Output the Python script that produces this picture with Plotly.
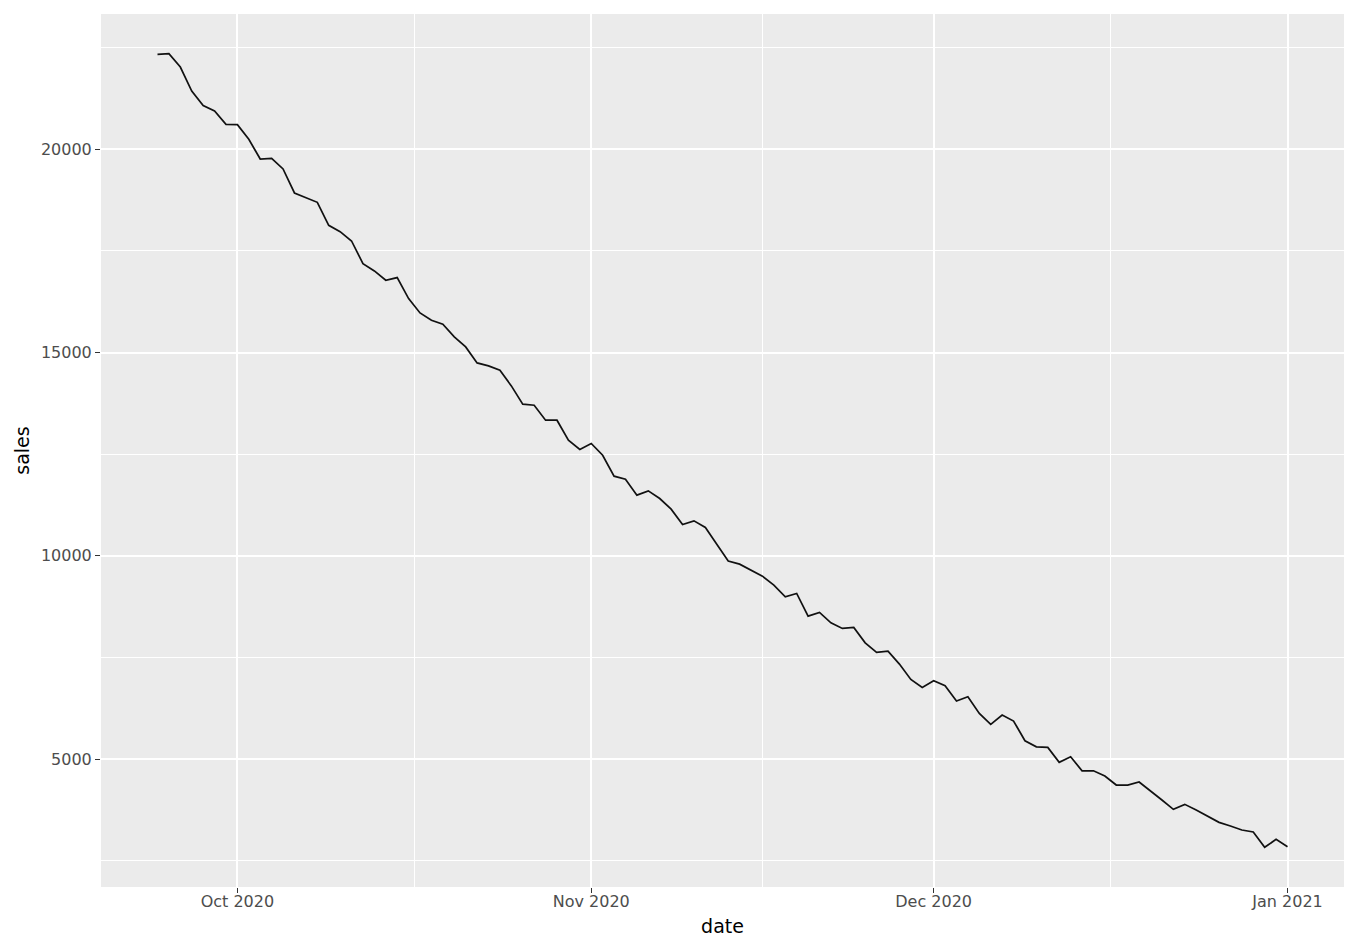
import pandas as pd
import plotly.graph_objects as go

start_date = "2020-09-24"
sales = [
    22336, 22353, 22024, 21434, 21075, 20942, 20615, 20607, 20246, 19762,
    19779, 19516, 18926, 18820, 18697, 18131, 17975, 17745, 17189, 17008,
    16779, 16845, 16329, 15975, 15795, 15697, 15385, 15139, 14745, 14672,
    14566, 14180, 13730, 13705, 13336, 13336, 12844, 12615, 12763, 12475,
    11959, 11885, 11492, 11598, 11410, 11148, 10771, 10860, 10698, 10287,
    9872, 9795, 9648, 9500, 9279, 8991, 9074, 8516, 8607, 8352,
    8214, 8238, 7860, 7624, 7656, 7336, 6960, 6763, 6926, 6803,
    6426, 6532, 6124, 5853, 6082, 5934, 5450, 5302, 5286, 4919,
    5056, 4712, 4712, 4581, 4361, 4361, 4435, 4222, 3992, 3763,
    3886, 3746, 3599, 3443, 3353, 3255, 3205, 2829, 3025, 2844,
]
dates = pd.date_range(start_date, periods=len(sales), freq="D")

x_tickvals = ["2020-10-01", "2020-11-01", "2020-12-01", "2021-01-01"]
x_ticktext = ["Oct 2020", "Nov 2020", "Dec 2020", "Jan 2021"]
x_minor = ["2020-10-16 12:00", "2020-11-16", "2020-12-16 12:00"]
y_tickvals = [5000, 10000, 15000, 20000]
y_minor = [2500, 7500, 12500, 17500, 22500]

# ggplot-style 5% expansion
span = dates[-1] - dates[0]
x_range = [dates[0] - span * 0.05, dates[-1] + span * 0.05]
ymin, ymax = min(sales), max(sales)
yr = ymax - ymin
y_range = [ymin - 0.05 * yr, ymax + 0.05 * yr]

fig = go.Figure(
    go.Scatter(x=dates, y=sales, mode="lines",
               line=dict(color="#111111", width=1.7), showlegend=False)
)

font = "DejaVu Sans"
fig.update_layout(
    width=1361, height=943,
    margin=dict(l=101, r=17, t=14, b=56),
    paper_bgcolor="white",
    plot_bgcolor="#EBEBEB",
    font=dict(family=font, color="#4D4D4D"),
)
fig.update_xaxes(
    range=x_range, showline=False, zeroline=False,
    tickmode="array", tickvals=x_tickvals, ticktext=x_ticktext,
    ticks="outside", ticklen=5, tickwidth=1, tickcolor="#333333",
    ticklabelstandoff=-5,
    tickfont=dict(size=16, color="#4D4D4D", family=font),
    showgrid=True, gridcolor="white", gridwidth=2,
    minor=dict(tickmode="array", tickvals=x_minor, showgrid=True,
               gridcolor="white", gridwidth=1, ticks=""),
    title=dict(text="date", font=dict(size=19, color="black", family=font), standoff=9),
    automargin=False,
)
fig.update_yaxes(
    range=y_range, showline=False, zeroline=False,
    tickmode="array", tickvals=y_tickvals, tickformat="d",
    ticks="outside", ticklen=5, tickwidth=1, tickcolor="#333333",
    tickfont=dict(size=16, color="#4D4D4D", family=font),
    showgrid=True, gridcolor="white", gridwidth=2,
    minor=dict(tickmode="array", tickvals=y_minor, showgrid=True,
               gridcolor="white", gridwidth=1, ticks=""),
    title=dict(text="sales", font=dict(size=19, color="black", family=font), standoff=6),
    automargin=False,
)

fig.write_html("out.html")
